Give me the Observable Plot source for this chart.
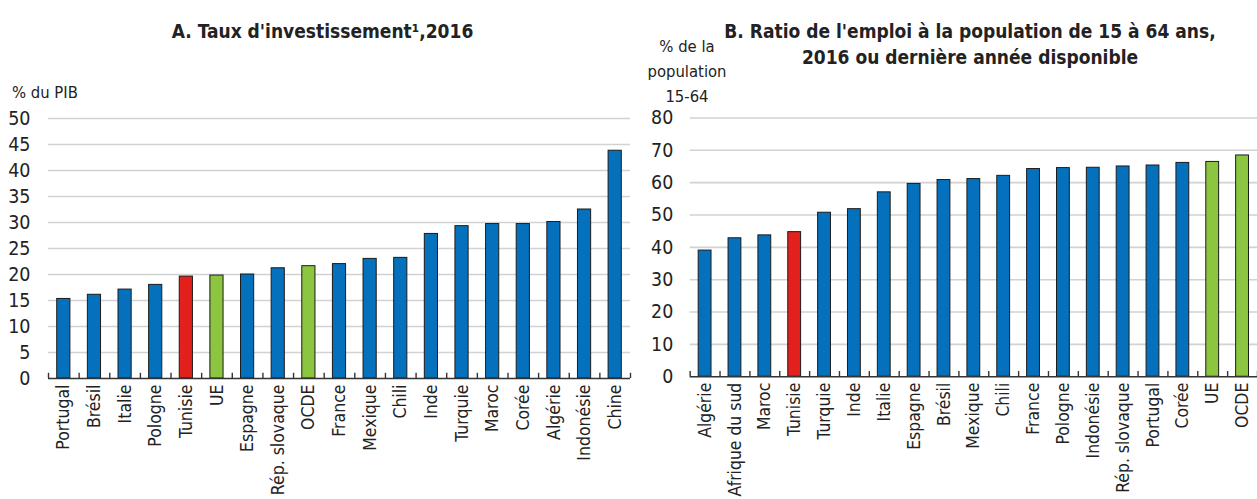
<!DOCTYPE html>
<html><head><meta charset="utf-8">
<script src="https://cdn.jsdelivr.net/npm/d3@7"></script>
<script src="https://cdn.jsdelivr.net/npm/@observablehq/plot@0.6"></script>
<style>
html,body{margin:0;padding:0;background:#fff;overflow:hidden;width:1257px;height:499px}
body{position:relative;font-family:"Liberation Sans Narrow","Arial Narrow","DejaVu Sans Condensed",sans-serif;color:#222}
.abs{position:absolute;white-space:nowrap}
.title{font-weight:bold;font-size:19px;text-align:center;line-height:26px}
.ylab{font-size:16.5px;line-height:25px;text-align:center}
</style></head>
<body>
<div class="abs title" style="left:0;width:645px;top:18px">A. Taux d'investissement¹,2016</div>
<div class="abs title" style="left:660px;width:620px;top:18px">B. Ratio de l'emploi à la population de 15 à 64 ans,<br>2016 ou dernière année disponible</div>
<div class="abs ylab" style="left:12px;top:80px;text-align:left">% du PIB</div>
<div class="abs ylab" style="left:627px;width:120px;top:34px">% de la<br>population<br>15-64</div>
<div id="a" class="abs" style="left:0;top:0"></div>
<div id="b" class="abs" style="left:620px;top:0"></div>
<script>
// Panel A: investment rate, % of GDP
const catsA = ["Portugal","Brésil","Italie","Pologne","Tunisie","UE","Espagne","Rép. slovaque","OCDE","France","Mexique","Chili","Inde","Turquie","Maroc","Corée","Algérie","Indonésie","Chine"];
const valsA = [15.3,16.1,17.1,18.0,19.6,19.8,20.0,21.2,21.6,22.0,23.0,23.2,27.8,29.3,29.7,29.7,30.1,32.5,43.8];
const ticksA = [0,5,10,15,20,25,30,35,40,45,50];
// Panel B: employment ratio, % of population 15-64
const catsB = ["Algérie","Afrique du sud","Maroc","Tunisie","Turquie","Inde","Italie","Espagne","Brésil","Mexique","Chili","France","Pologne","Indonésie","Rép. slovaque","Portugal","Corée","UE","OCDE"];
const valsB = [39.0,42.8,43.7,44.7,50.7,51.8,57.0,59.6,60.8,61.1,62.1,64.2,64.5,64.6,65.0,65.3,66.1,66.4,68.4];
const ticksB = [0,10,20,30,40,50,60,70,80];
const redCats = ["Tunisie"];
const greenCats = ["UE","OCDE"];
const colors = {blue:"#0571BD", red:"#E3211C", green:"#8CC540"};

const FONT = '"Liberation Sans Narrow","Arial Narrow","DejaVu Sans Condensed",sans-serif';

function panel({cats, vals, ticks, width, marginLeft, marginRight, tickLen, tickPadY}) {
  const data = cats.map((c, i) => ({cat: c, val: vals[i],
    col: redCats.includes(c) ? colors.red : greenCats.includes(c) ? colors.green : colors.blue}));
  const height = 499, marginTop = 118, marginBottom = 121;
  const step = (width - marginLeft - marginRight) / cats.length;
  const pad = 0.57;
  return Plot.plot({
    width, height, marginTop, marginBottom, marginLeft, marginRight,
    style: {fontFamily: FONT, fontSize: "18px", color: "#222", overflow: "visible", background: "transparent"},
    x: {domain: cats, paddingInner: pad, paddingOuter: pad / 2, round: false, axis: null},
    y: {domain: [ticks[0], ticks[ticks.length - 1]], axis: null},
    color: {type: "identity"},
    marks: [
      Plot.ruleY(ticks.filter(t => t > 0), {stroke: "#d2d2d2", strokeWidth: 1.6}),
      Plot.barY(data, {x: "cat", y: "val", fill: "col", stroke: "#1b1b1b", strokeWidth: 1}),
      Plot.ruleY([0], {stroke: "#333", strokeWidth: 1.6}),
      Plot.ruleX(cats, {x: d => d, y1: 0, y2: tickLen, dx: -step / 2, stroke: "#333", strokeWidth: 1.4}),
      Plot.ruleX([cats[cats.length - 1]], {x: d => d, y1: 0, y2: tickLen, dx: step / 2, stroke: "#333", strokeWidth: 1.4}),
      Plot.axisY({ticks, tickSize: 0, tickPadding: tickPadY, label: null, fontSize: 19.5}),
      Plot.axisX({tickSize: 0, tickRotate: -90, tickPadding: 6, label: null, fontSize: 17.5})
    ]
  });
}

document.getElementById("a").append(panel({cats: catsA, vals: valsA, ticks: ticksA, width: 635, marginLeft: 48, marginRight: 5, tickLen: 1, tickPadY: 18}));
document.getElementById("b").append(panel({cats: catsB, vals: valsB, ticks: ticksB, width: 640, marginLeft: 70, marginRight: 0, tickLen: 1.6, tickPadY: 17}));
</script>
</body></html>
